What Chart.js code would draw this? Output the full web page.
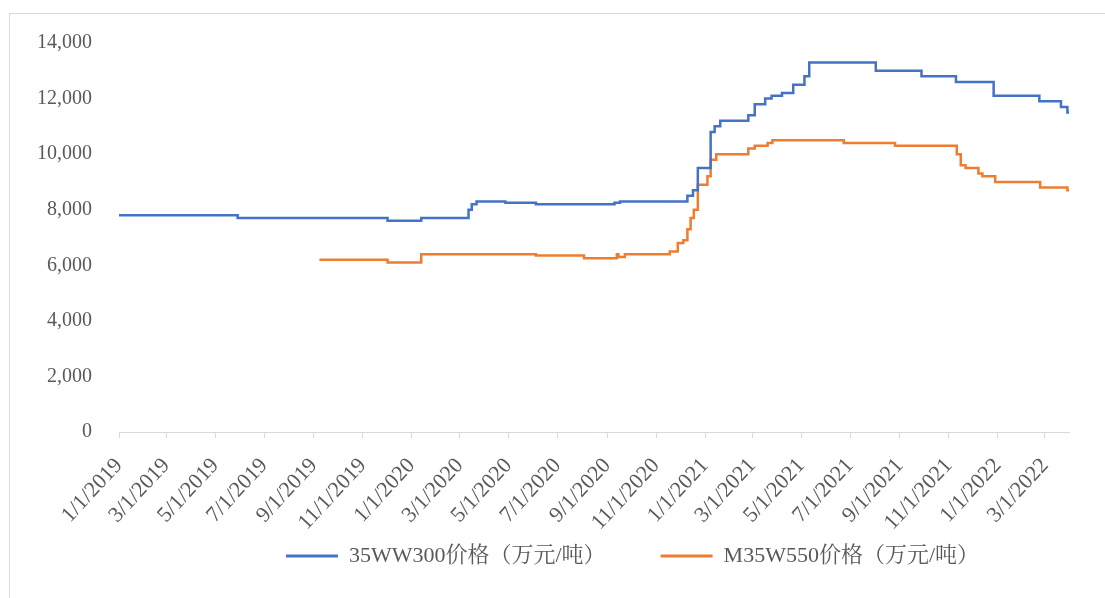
<!DOCTYPE html>
<html>
<head>
<meta charset="utf-8">
<script src="https://cdn.jsdelivr.net/npm/chart.js@4"></script>
<style>
  body { margin: 0; overflow: hidden; background: #fff; }
  #frame { position: absolute; left: 9px; top: 13px; width: 1300px; height: 700px; border: 1px solid #d9d9d9; }
  #wrap { position: absolute; left: 0; top: 0; width: 1256px; height: 598px; }
</style>
</head>
<body>
<div id="frame"></div>
<div id="wrap"><canvas id="priceChart"></canvas></div>
<script>
// 35WW300 price steps (date the new price starts, price)
let blueDates = ['2019-01-01','2019-05-29','2019-12-02','2020-01-13','2020-03-12','2020-03-16','2020-03-22',
  '2020-04-27','2020-06-04','2020-09-10','2020-09-17','2020-12-10','2020-12-17','2020-12-23','2021-01-08',
  '2021-01-13','2021-01-20','2021-02-24','2021-03-04','2021-03-17','2021-03-25','2021-04-07','2021-04-21',
  '2021-05-05','2021-05-11','2021-08-02','2021-09-28','2021-11-10','2021-12-27','2022-02-22','2022-03-21',
  '2022-03-29','2022-03-31'];
let blueValues = [7800,7700,7600,7700,8000,8200,8300,
  8250,8200,8250,8300,8500,8700,9500,10800,
  11000,11200,11400,11800,12000,12100,12200,12500,
  12800,13300,13000,12800,12600,12100,11900,11700,
  11500,11500];

// M35W550 price steps
let orangeDates = ['2019-09-08','2019-12-02','2020-01-13','2020-06-04','2020-08-03','2020-09-13','2020-09-15',
  '2020-09-23','2020-11-18','2020-11-28','2020-12-05','2020-12-10','2020-12-14','2020-12-18','2020-12-23',
  '2021-01-04','2021-01-08','2021-01-15','2021-02-24','2021-03-04','2021-03-20','2021-03-26','2021-06-23',
  '2021-08-26','2021-11-11','2021-11-16','2021-11-22','2021-12-08','2021-12-13','2021-12-29','2022-02-23',
  '2022-03-29','2022-03-31'];
let orangeValues = [6200,6100,6400,6350,6250,6400,6300,
  6400,6500,6800,6900,7300,7700,8000,8900,
  9200,9800,10000,10200,10300,10400,10500,10400,
  10300,10000,9600,9500,9300,9200,9000,8800,
  8700,8700];

let xTickLabels = ['1/1/2019','3/1/2019','5/1/2019','7/1/2019','9/1/2019','11/1/2019',
  '1/1/2020','3/1/2020','5/1/2020','7/1/2020','9/1/2020','11/1/2020',
  '1/1/2021','3/1/2021','5/1/2021','7/1/2021','9/1/2021','11/1/2021',
  '1/1/2022','3/1/2022'];
let seriesNames = ['35WW300价格（万元/吨）','M35W550价格（万元/吨）'];

const base = Date.UTC(2019,0,1);
function dayOf(s){ return Math.round((Date.parse(s) - base)/86400000); }
function dayOfMdy(s){ let p = s.split('/'); return Math.round((Date.UTC(+p[2], +p[0]-1, +p[1]) - base)/86400000); }
function toPoints(dates, vals){ return dates.map((d,i) => ({x: dayOf(d), y: vals[i]})); }

const serif = "'Times New Roman', 'Liberation Serif', 'Noto Serif CJK SC', 'Noto Sans CJK SC', serif";
const textColor = '#595959';

let data = {
  datasets: [{
    label: seriesNames[0],
    data: toPoints(blueDates, blueValues),
    borderColor: '#4472C4',
    backgroundColor: '#4472C4',
    borderWidth: 2.5,
    pointRadius: 0,
    stepped: 'before'
  },{
    label: seriesNames[1],
    data: toPoints(orangeDates, orangeValues),
    borderColor: '#ED7D31',
    backgroundColor: '#ED7D31',
    borderWidth: 2.5,
    pointRadius: 0,
    stepped: 'before'
  }]
};

// legend sits right of centre and closer to the axis labels in the original
const legendShift = {
  id: 'legendShift',
  afterLayout(chart){
    let lg = chart.legend;
    let h = lg.bottom - lg.top;
    lg.left += 98;
    lg.right += 98;
    lg.top = 490;
    lg.bottom = 490 + h;
  }
};

let config = {
  type: 'line',
  data: data,
  plugins: [legendShift],
  options: {
    responsive: true,
    maintainAspectRatio: false,
    animation: false,
    layout: { padding: { left: 0, right: 187, top: 43, bottom: -21 } },
    scales: {
      x: {
        type: 'linear',
        min: 0,
        max: 1185,
        afterBuildTicks: function(scale){
          scale.ticks = xTickLabels.map(l => ({ value: dayOfMdy(l) }));
        },
        afterFit: function(scale){ scale.height = 100; },
        ticks: {
          autoSkip: false,
          minRotation: 47,
          maxRotation: 47,
          padding: 15,
          color: textColor,
          font: { family: serif, size: 22 },
          callback: function(v){
            let d = new Date(base + v*86400000);
            return (d.getUTCMonth()+1) + '/' + d.getUTCDate() + '/' + d.getUTCFullYear();
          }
        },
        grid: { display: true, drawOnChartArea: false, drawTicks: true, tickLength: 6, color: '#d9d9d9' },
        border: { display: true, color: '#d9d9d9', width: 1 }
      },
      y: {
        min: 0,
        max: 14000,
        afterFit: function(scale){ scale.width = 119; },
        ticks: {
          stepSize: 2000,
          padding: 27,
          color: textColor,
          font: { family: serif, size: 20 },
          callback: v => v.toLocaleString('en-US')
        },
        grid: { display: false, drawTicks: false },
        border: { display: false }
      }
    },
    plugins: {
      tooltip: { enabled: false },
      legend: {
        position: 'bottom',
        labels: {
          boxWidth: 52,
          boxHeight: 3,
          padding: 55,
          color: textColor,
          font: { family: serif, size: 22 },
          generateLabels: function(chart){
            let items = Chart.defaults.plugins.legend.labels.generateLabels(chart);
            items.forEach(it => { it.lineWidth = 0; });
            return items;
          }
        }
      }
    }
  }
};

let priceChart = new Chart(document.getElementById('priceChart'), config);
</script>
</body>
</html>
